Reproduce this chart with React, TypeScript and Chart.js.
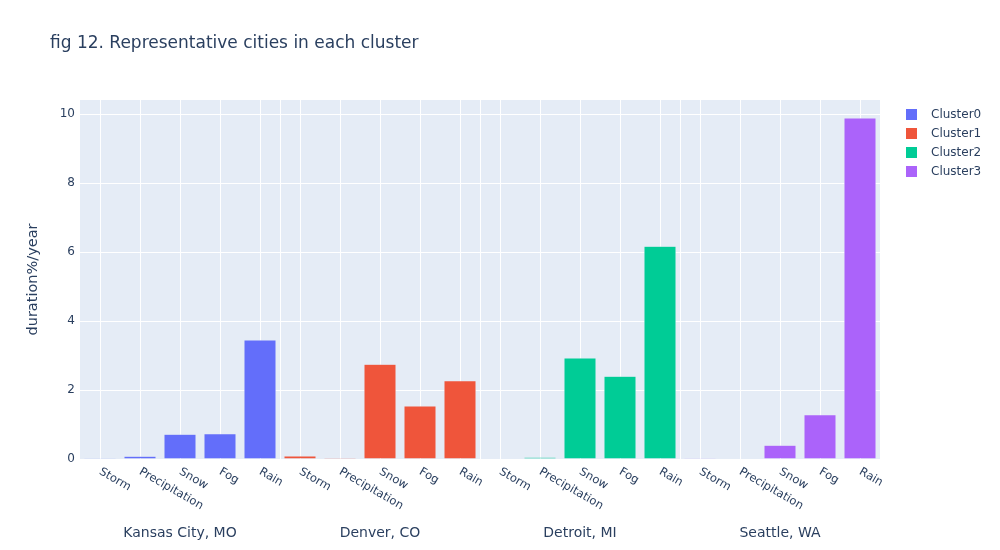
import React, { useEffect, useRef } from "react";
import { Chart, registerables } from "chart.js";

Chart.register(...registerables);

const weatherTypes = ["Storm", "Precipitation", "Snow", "Fog", "Rain"];
const cities = ["Kansas City, MO", "Denver, CO", "Detroit, MI", "Seattle, WA"];
const seriesNames = ["Cluster0", "Cluster1", "Cluster2", "Cluster3"];
const cluster0 = [0.005, 0.08, 0.72, 0.73, 3.45];
const cluster1 = [0.09, 0.03, 2.75, 1.54, 2.27];
const cluster2 = [0.01, 0.05, 2.93, 2.4, 6.17];
const cluster3 = [0.005, 0.02, 0.4, 1.28, 9.89];
const yTicks = [0, 2, 4, 6, 8, 10];
const titleText = "fig 12. Representative cities in each cluster";
const yTitle = "duration%/year";

const colors = ["#636EFA", "#EF553B", "#00CC96", "#AB63FA"];
const FONT = '"DejaVu Sans", verdana, arial, sans-serif';
const TEXT = "#2a3f5f";

export default function App() {
  const ref = useRef<HTMLCanvasElement | null>(null);

  useEffect(() => {
    if (!ref.current) return;
    const all = [cluster0, cluster1, cluster2, cluster3];
    const labels: string[] = [];
    cities.forEach((c) => weatherTypes.forEach((w) => labels.push(c + "|" + w)));
    const n = labels.length;
    const datasets = all.map((vals, k) => {
      const data: (number | null)[] = new Array(n).fill(null);
      vals.forEach((v, j) => (data[k * weatherTypes.length + j] = v));
      return {
        label: seriesNames[k],
        data,
        backgroundColor: colors[k],
        borderColor: "#E5ECF6",
        borderWidth: 0.5,
        barPercentage: 0.8,
        categoryPercentage: 1,
      };
    });

    const decor = {
      id: "decor",
      beforeDraw(chart: any) {
        const { ctx, chartArea: a } = chart;
        ctx.save();
        ctx.fillStyle = "#E5ECF6";
        ctx.fillRect(a.left, a.top, a.right - a.left, a.bottom - a.top);
        ctx.restore();
      },
      beforeDatasetsDraw(chart: any) {
        const { ctx, chartArea: a } = chart;
        const xs = chart.scales.x;
        ctx.save();
        ctx.strokeStyle = "#ffffff";
        ctx.lineWidth = 1;
        for (let k = 1; k < cities.length; k++) {
          const i = k * weatherTypes.length;
          const px = Math.round((xs.getPixelForValue(i - 1) + xs.getPixelForValue(i)) / 2) + 0.5;
          ctx.beginPath();
          ctx.moveTo(px, a.top);
          ctx.lineTo(px, a.bottom);
          ctx.stroke();
        }
        ctx.restore();
      },
      afterDraw(chart: any) {
        const { ctx, chartArea: a } = chart;
        const xs = chart.scales.x;
        ctx.save();
        ctx.fillStyle = TEXT;
        // x tick labels
        ctx.font = "11.5px " + FONT;
        ctx.textAlign = "left";
        ctx.textBaseline = "middle";
        labels.forEach((lab, i) => {
          const px = xs.getPixelForValue(i);
          ctx.save();
          ctx.translate(px, a.bottom + 12);
          ctx.rotate(Math.PI / 6);
          ctx.fillText(lab.split("|")[1], 0, 0);
          ctx.restore();
        });
        // city labels
        ctx.font = "14px " + FONT;
        ctx.textAlign = "center";
        cities.forEach((c, k) => {
          const p0 = xs.getPixelForValue(k * weatherTypes.length);
          const p1 = xs.getPixelForValue(k * weatherTypes.length + weatherTypes.length - 1);
          ctx.fillText(c, (p0 + p1) / 2, 533);
        });
        // y title
        ctx.save();
        ctx.font = "14.5px " + FONT;
        ctx.translate(33, (a.top + a.bottom) / 2);
        ctx.rotate(-Math.PI / 2);
        ctx.textAlign = "center";
        ctx.fillText(yTitle, 0, 0);
        ctx.restore();
        // title
        ctx.font = "17px " + FONT;
        ctx.textAlign = "left";
        ctx.fillText(titleText, 50, 44);
        // legend
        ctx.font = "12px " + FONT;
        seriesNames.forEach((s, k) => {
          const cy = 114.5 + k * 19;
          ctx.fillStyle = colors[k];
          ctx.fillRect(906, cy - 5.5, 11, 11);
          ctx.fillStyle = TEXT;
          ctx.fillText(s, 931, cy);
        });
        ctx.restore();
      },
    };

    const chart = new Chart(ref.current, {
      type: "bar",
      data: { labels, datasets },
      plugins: [decor],
      options: {
        animation: false,
        responsive: false,
        events: [],
        layout: { padding: { top: 100, right: 120, left: 0, bottom: 0 } },
        plugins: { legend: { display: false }, tooltip: { enabled: false }, title: { display: false } },
        datasets: { bar: { grouped: false } } as any,
        scales: {
          x: {
            type: "category",
            offset: true,
            grid: { color: "#ffffff", lineWidth: 1, offset: false, drawTicks: false },
            border: { display: false },
            ticks: { display: false },
            afterFit(scale: any) {
              scale.height = 91;
            },
          },
          y: {
            min: 0,
            max: 10.41,
            grid: { color: "#ffffff", lineWidth: 1, drawTicks: false },
            border: { display: false },
            ticks: {
              color: TEXT,
              font: { size: 12, family: FONT },
              padding: 5,
            },
            afterBuildTicks(scale: any) {
              scale.ticks = yTicks.map((v) => ({ value: v }));
            },
            afterFit(scale: any) {
              scale.width = 80;
            },
          },
        },
      },
    } as any);
    return () => chart.destroy();
  }, []);

  return (
    <div style={{ position: "fixed", left: 0, top: 0, width: 1000, height: 550, background: "#fff" }}>
      <canvas ref={ref} width={1000} height={550} />
    </div>
  );
}
